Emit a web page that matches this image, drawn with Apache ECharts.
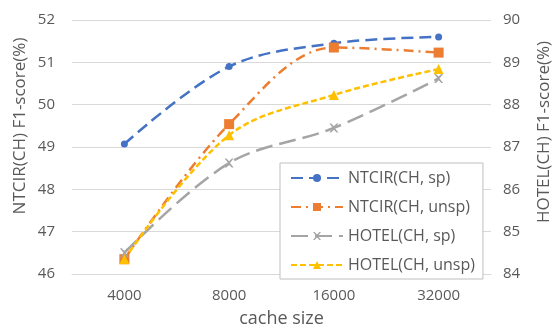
<!DOCTYPE html>
<html><head><meta charset="utf-8">
<script src="https://cdn.jsdelivr.net/npm/echarts@6/dist/echarts.min.js"></script>
<style>html,body{margin:0;padding:0;background:#fff}#c{width:553px;height:333px}</style>
</head><body><div id="c"></div>
<script>
const categories = ['4000', '8000', '16000', '32000'];
const ntcirSp = [49.07, 50.9, 51.45, 51.6];
const ntcirUnsp = [46.35, 49.54, 51.35, 51.23];
const hotelSp = [84.5, 86.62, 87.45, 88.62];
const hotelUnsp = [84.35, 87.28, 88.23, 88.84];
const seriesNames = ['NTCIR(CH, sp)', 'NTCIR(CH, unsp)', 'HOTEL(CH, sp)', 'HOTEL(CH, unsp)'];
const leftTitle = 'NTCIR(CH) F1-score(%)';
const rightTitle = 'HOTEL(CH) F1-score(%)';
const xTitle = 'cache size';

const font = '"Open Sans", sans-serif';
const txt = '#595959';
const chart = echarts.init(document.getElementById('c'));
function mk(name, data, yIdx, color, dash, symbol, size) {
  return {
    name, type: 'line', data, yAxisIndex: yIdx, smooth: 0.35,
    symbol, symbolSize: size,
    itemStyle: { color },
    lineStyle: { color, width: 2.5, type: dash, cap: 'butt' },
    z: 3
  };
}
chart.setOption({
  animation: false,
  textStyle: { fontFamily: font },
  grid: { left: 72, right: 62, top: 20, bottom: 59 },
  legend: {
    orient: 'vertical', left: 280, top: 163, width: 206,
    backgroundColor: '#fff', borderColor: '#BFBFBF', borderWidth: 1,
    padding: [7, 8, 6, 10], itemGap: 13, itemWidth: 52, itemHeight: 10,
    textStyle: { fontFamily: font, fontSize: 16, color: txt, lineHeight: 14 },
    data: seriesNames
  },
  graphic: [
    { type: 'text', x: 20, y: 126, rotation: Math.PI / 2,
      style: { text: leftTitle, fontSize: 17, fontFamily: font, fill: txt, align: 'center', verticalAlign: 'middle' } },
    { type: 'text', x: 544, y: 132, rotation: Math.PI / 2,
      style: { text: rightTitle, fontSize: 17, fontFamily: font, fill: txt, align: 'center', verticalAlign: 'middle' } }
  ],
  xAxis: {
    type: 'category', data: categories, boundaryGap: true,
    name: xTitle, nameLocation: 'middle', nameGap: 36,
    nameTextStyle: { fontSize: 18, color: txt, fontFamily: font },
    axisLine: { lineStyle: { color: '#D9D9D9' } },
    axisTick: { show: false },
    axisLabel: { fontSize: 15, color: txt, margin: 14 }
  },
  yAxis: [{
    type: 'value', min: 46, max: 52, interval: 1,
    axisLine: { show: false }, axisTick: { show: false },
    axisLabel: { fontSize: 15, color: txt, margin: 17 },
    splitLine: { lineStyle: { color: '#D9D9D9' } }
  }, {
    type: 'value', min: 84, max: 90, interval: 1, position: 'right',
    axisLine: { show: false }, axisTick: { show: false },
    axisLabel: { fontSize: 15, color: txt, margin: 12 },
    splitLine: { show: false }
  }],
  series: [
    mk(seriesNames[0], ntcirSp, 0, '#4472C4', [12, 6], 'circle', 7),
    mk(seriesNames[1], ntcirUnsp, 0, '#ED7D31', [10, 5, 2, 5], 'rect', 10),
    mk(seriesNames[2], hotelSp, 1, '#A5A5A5', [17, 7], 'path://M0,0L2,0L5,3L8,0L10,0L6,5L10,10L8,10L5,7L2,10L0,10L4,5Z', 9),
    mk(seriesNames[3], hotelUnsp, 1, '#FFC000', [6, 3], 'triangle', 10)
  ]
});
</script></body></html>
